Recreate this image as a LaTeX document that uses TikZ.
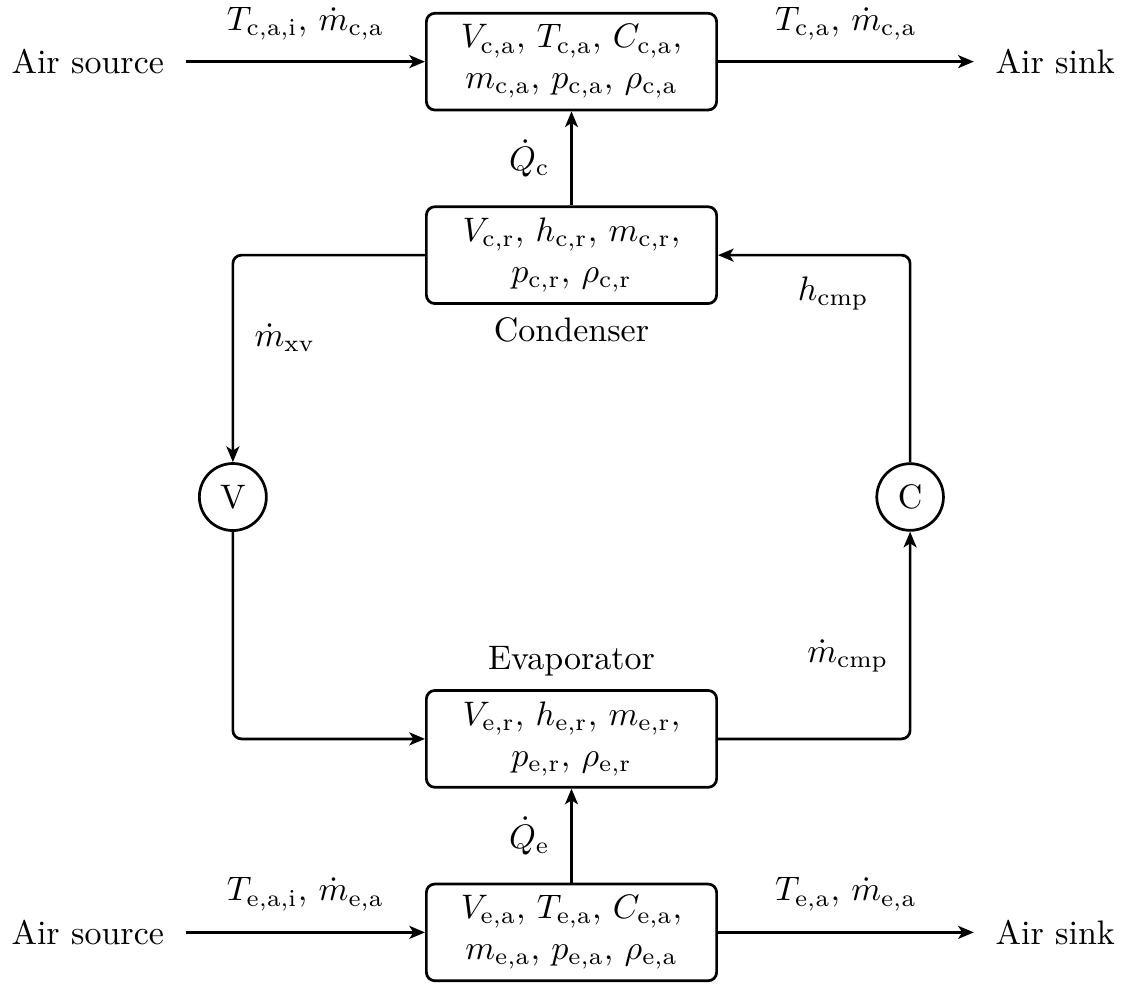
\documentclass[tikz,border=0pt]{standalone}
\usepackage{amsmath}
\usepackage{amssymb}
\usepackage{tikz}
\usetikzlibrary{arrows.meta}

\begin{document}
\begin{tikzpicture}[thick, >= {Stealth[length = 4.6pt, width = 3.8pt, inset = 1.2pt]},
  box/.style = {draw, rounded corners = 2.5pt, minimum width = 3cm, minimum height = 1cm, align = center},
  txt/.style = {inner sep = 6pt},
  pipe/.style = {->, rounded corners = 2.5pt}]
\useasboundingbox (-5.907,-5.044) rectangle (5.783,5.137);
% condenser
\node [box] (ca) at (0,4.5) {$V_\mathrm{c,a}$, $T_\mathrm{c,a}$, $C_\mathrm{c,a}$,\\ $m_\mathrm{c,a}$, $p_\mathrm{c,a}$, $\rho_\mathrm{c,a}$};
\node [box] (cr) at (0,2.5) {$V_\mathrm{c,r}$, $h_\mathrm{c,r}$, $m_\mathrm{c,r}$,\\ $p_\mathrm{c,r}$, $\rho_\mathrm{c,r}$};
\node [below] (cond) at (cr.south) {Condenser};
% evaporator
\node [box] (er) at (0,-2.5) {$V_\mathrm{e,r}$, $h_\mathrm{e,r}$, $m_\mathrm{e,r}$,\\ $p_\mathrm{e,r}$, $\rho_\mathrm{e,r}$};
\node [above] (evap) at (er.north) {Evaporator};
\node [box] (ea) at (0,-4.5) {$V_\mathrm{e,a}$, $T_\mathrm{e,a}$, $C_\mathrm{e,a}$,\\ $m_\mathrm{e,a}$, $p_\mathrm{e,a}$, $\rho_\mathrm{e,a}$};
% valve and compressor
\node [draw, circle] (V) at (-3.5,0) {V};
\node [draw, circle] (C) at (3.5,0) {C};
% air sides
\node [txt] (csrc) at (-5,4.5) {Air source};
\node [txt] (csnk) at (5,4.5) {Air sink};
\node [txt] (esrc) at (-5,-4.5) {Air source};
\node [txt] (esnk) at (5,-4.5) {Air sink};
\draw [->] (csrc) -- node [txt, above] {$T_\mathrm{c,a,i}$, $\dot{m}_\mathrm{c,a}$} (ca);
\draw [->] (ca) -- node [txt, above] {$T_\mathrm{c,a}$, $\dot{m}_\mathrm{c,a}$} (csnk);
\draw [->] (esrc) -- node [txt, above] {$T_\mathrm{e,a,i}$, $\dot{m}_\mathrm{e,a}$} (ea);
\draw [->] (ea) -- node [txt, above] {$T_\mathrm{e,a}$, $\dot{m}_\mathrm{e,a}$} (esnk);
% heat
\draw [->] (cr) -- node [txt, left] {$\dot{Q}_\mathrm{c}$} (ca);
\draw [->] (ea) -- node [txt, left] {$\dot{Q}_\mathrm{e}$} (er);
% refrigerant loop
\draw [pipe] (cr) -| node [txt, right, pos = 0.7] {$\dot{m}_\mathrm{xv}$} (V);
\draw [pipe] (V) |- (er);
\draw [pipe] (er) -| node [txt, left, pos = 0.7] {$\dot{m}_\mathrm{cmp}$} (C);
\draw [pipe] (C) |- node [txt, below, pos = 0.7] {$h_\mathrm{cmp}$} (cr);
\end{tikzpicture}
\end{document}
